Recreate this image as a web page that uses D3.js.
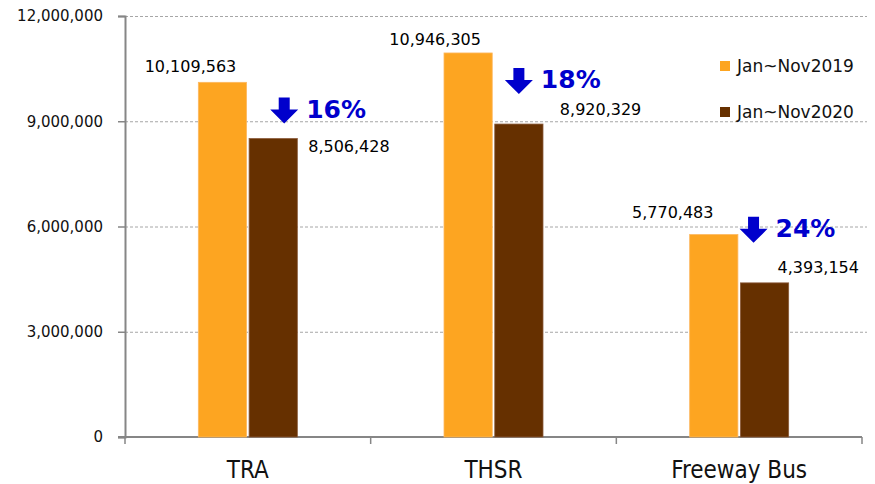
<!DOCTYPE html>
<html>
<head>
<meta charset="utf-8">
<script src="https://cdn.jsdelivr.net/npm/d3@7"></script>
<style>
  body { margin: 0; background: #fff; }
  .chart svg { display: block; }
</style>
</head>
<body>
<div class="chart"></div>
<script>
// data ------------------------------
const categories = ["TRA", "THSR", "Freeway Bus"];
const series = ["Jan~Nov2019", "Jan~Nov2020"];
const values2019 = [10109563, 10946305, 5770483];
const values2020 = [8506428, 8920329, 4393154];
const dropLabels = ["16%", "18%", "24%"];
const yTicks = [0, 3000000, 6000000, 9000000, 12000000];

const colors = ["#FDA521", "#663000"];

// hand placed label nudges, like the original (dx from bar center, dy from bar top)
const nudge2019 = [[-32, -10], [-33, -8], [-41, -17]];
const nudge2020 = [[35, 13], [41, -9], [13, -10]];
const arrowNudge = [[11, -41], [0, -56], [-11, -66]];

const W = 875, H = 484;
const margin = { top: 16, right: 13, bottom: 47, left: 125 };
const width = W - margin.left - margin.right,
    height = H - margin.top - margin.bottom;

const svg = d3.select(".chart")
    .append("svg")
    .attr("width", W)
    .attr("height", H)
    .append("g")
    .attr("transform", `translate(${margin.left}, ${margin.top})`);

const xScale = d3.scaleBand().domain(categories).range([0, width]);
const groupW = 99;
const xInner = d3.scaleBand().domain(series)
    .range([(xScale.bandwidth() - groupW) / 2, (xScale.bandwidth() + groupW) / 2])
    .paddingInner(0.05);
const yScale = d3.scaleLinear().domain([0, 12000000]).range([height, 0]);

// gridlines
svg.append("g")
    .selectAll("line")
    .data(yTicks.filter(d => d > 0))
    .join("line")
    .attr("x1", 0)
    .attr("x2", width + 5)
    .attr("y1", d => yScale(d) + 0.5)
    .attr("y2", d => yScale(d) + 0.5)
    .attr("stroke", "#a6a6a6")
    .attr("stroke-dasharray", "3,2");

// y axis
const yAxis = d3.axisLeft(yScale)
    .tickValues(yTicks)
    .tickSize(7)
    .tickFormat(d3.format(","));
const gy = svg.append("g").attr("class", "y-axis").call(yAxis);
gy.select(".domain").attr("stroke", "#868686").attr("stroke-width", 2);
gy.selectAll(".tick line").attr("stroke", "#868686").attr("stroke-width", 1.5);
gy.selectAll("text")
    .attr("x", -22)
    .attr("fill", "#111")
    .style("font-family", "'DejaVu Sans', Tahoma, sans-serif")
    .style("font-size", "15px");

// x axis
const gx = svg.append("g").attr("class", "x-axis")
    .attr("transform", `translate(0, ${height})`);
gx.append("line")
    .attr("x1", -7).attr("x2", width)
    .attr("stroke", "#868686").attr("stroke-width", 2);
gx.selectAll(".xt")
    .data(d3.range(categories.length + 1))
    .join("line")
    .attr("class", "xt")
    .attr("x1", i => i * xScale.step())
    .attr("x2", i => i * xScale.step())
    .attr("y1", 0).attr("y2", 7)
    .attr("stroke", "#868686").attr("stroke-width", 1.5);
gx.selectAll(".xl")
    .data(categories)
    .join("text")
    .attr("class", "xl")
    .attr("x", d => xScale(d) + xScale.bandwidth() / 2)
    .attr("y", 41)
    .attr("text-anchor", "middle")
    .attr("fill", "#111")
    .style("font-family", "'Liberation Sans Narrow', 'Arial Narrow', 'DejaVu Sans Condensed', sans-serif")
    .style("font-size", "24px")
    .text(d => d);

// bars
const rows = categories.map((c, i) => ({ c, i, v: [values2019[i], values2020[i]] }));
const groups = svg.selectAll(".grp")
    .data(rows)
    .join("g")
    .attr("class", "grp")
    .attr("transform", d => `translate(${xScale(d.c)}, 0)`);

groups.selectAll("rect")
    .data(d => series.map((s, k) => ({ s, k, v: d.v[k] })))
    .join("rect")
    .attr("x", d => xInner(d.s))
    .attr("y", d => yScale(d.v))
    .attr("width", xInner.bandwidth())
    .attr("height", d => height - yScale(d.v))
    .attr("fill", d => colors[d.k])
    .attr("stroke", d => d.k === 0 ? "#FDB860" : "#8a5a3a")
    .attr("stroke-width", 0.8);

const labelFont = "'DejaVu Sans', Tahoma, sans-serif";
const mid = s => xInner(s) + xInner.bandwidth() / 2;

// 2019 value labels
groups.append("text")
    .attr("x", d => mid(series[0]) + nudge2019[d.i][0])
    .attr("y", d => yScale(d.v[0]) + nudge2019[d.i][1])
    .attr("text-anchor", "middle")
    .attr("fill", "#000")
    .style("font-family", labelFont)
    .style("font-size", "16px")
    .text(d => d3.format(",")(d.v[0]));

// 2020 value labels
groups.append("text")
    .attr("x", d => mid(series[1]) + nudge2020[d.i][0])
    .attr("y", d => yScale(d.v[1]) + nudge2020[d.i][1])
    .attr("text-anchor", "start")
    .attr("fill", "#000")
    .style("font-family", labelFont)
    .style("font-size", "16px")
    .text(d => d3.format(",")(d.v[1]));

// drop arrows + percentages above the 2020 bar
const arrowPath = "M-5.5,0 H5.5 V12 H14 L0,26 L-14,12 H-5.5 Z";
groups.append("path")
    .attr("d", arrowPath)
    .attr("fill", "#0000CC")
    .attr("transform", d => {
        const cx = mid(series[1]) + arrowNudge[d.i][0];
        const ty = yScale(d.v[1]) + arrowNudge[d.i][1];
        return `translate(${cx}, ${ty})`;
    });
groups.append("text")
    .attr("x", d => mid(series[1]) + arrowNudge[d.i][0] + 22)
    .attr("y", d => yScale(d.v[1]) + arrowNudge[d.i][1] + 20)
    .attr("fill", "#0000CC")
    .style("font-family", labelFont)
    .style("font-weight", "bold")
    .style("font-size", "25px")
    .text(d => dropLabels[d.i]);

// legend
const legend = svg.append("g")
    .attr("transform", `translate(${720 - margin.left}, ${61 - margin.top})`);
const li = legend.selectAll("g")
    .data(series)
    .join("g")
    .attr("transform", (d, i) => `translate(0, ${i * 46})`);
li.append("rect")
    .attr("width", 10).attr("height", 10)
    .attr("fill", (d, i) => colors[i]);
li.append("text")
    .attr("x", 17)
    .attr("y", 11)
    .attr("fill", "#111")
    .style("font-family", labelFont)
    .style("font-size", "17px")
    .text(d => d);
</script>
</body>
</html>
